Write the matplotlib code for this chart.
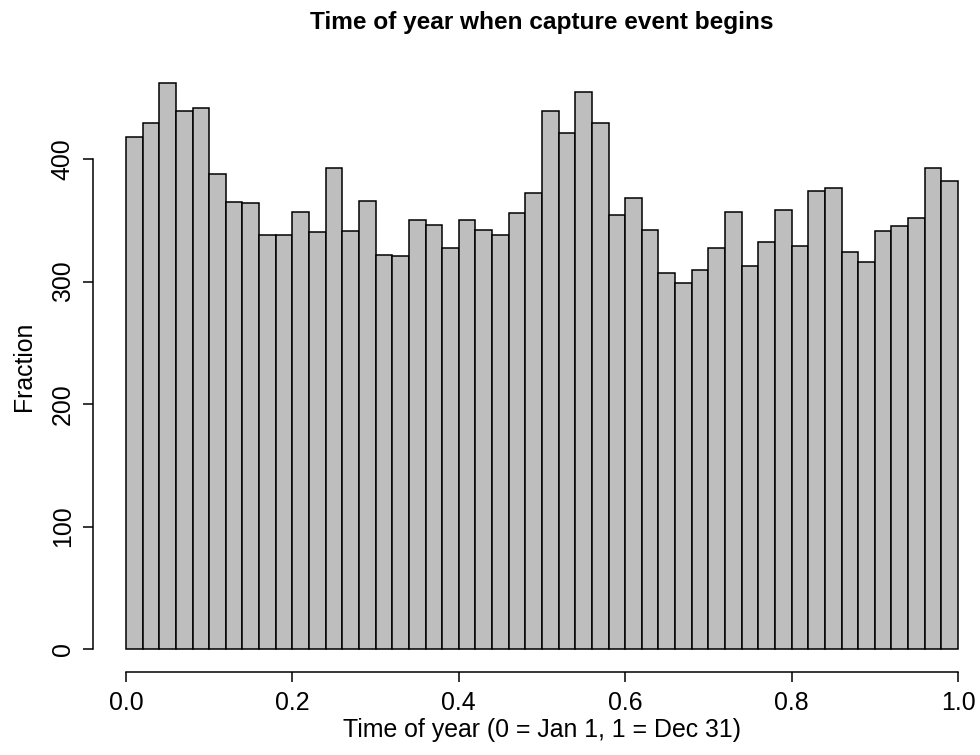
import numpy as np
import matplotlib.pyplot as plt

plt.rcParams['font.family'] = ['Liberation Sans', 'DejaVu Sans']

# histogram of capture start times, 50 bins over [0, 1]
bin_start = 0.0
bin_end = 1.0
counts = [418, 429, 462, 439, 442, 388, 365, 364, 338, 338,
          357, 340, 393, 341, 366, 322, 321, 350, 346, 327,
          350, 342, 338, 356, 372, 439, 421, 455, 429, 354,
          368, 342, 307, 299, 309, 327, 357, 313, 332, 358,
          329, 374, 376, 324, 316, 341, 345, 352, 393, 382]
x_ticks = [0.0, 0.2, 0.4, 0.6, 0.8, 1.0]
x_tick_labels = ['0.0', '0.2', '0.4', '0.6', '0.8', '1.0']
y_ticks = [0, 100, 200, 300, 400]

edges = np.linspace(bin_start, bin_end, len(counts) + 1)
width = edges[1] - edges[0]

W, H = 980, 755
fig = plt.figure(figsize=(W / 100, H / 100), dpi=100)
# pixel mapping: x=0 -> 126, x=1 -> 958 ; y=0 -> 649, y=400 -> 159
px_left, px_right, px_top, px_bot = 92.7, 975, 60, 672
ax = fig.add_axes([px_left / W, 1 - px_bot / H, (px_right - px_left) / W, (px_bot - px_top) / H])
ax.set_xlim((px_left - 126) / 832, (px_right - 126) / 832)
ax.set_ylim((649 - px_bot) / 1.225, (649 - px_top) / 1.225)

ax.bar(edges[:-1], counts, width=width, align='edge', color='#bebebe',
       edgecolor='black', linewidth=1.1)

for s in ['top', 'right']:
    ax.spines[s].set_visible(False)
for s in ['left', 'bottom']:
    ax.spines[s].set_linewidth(1.1)
ax.spines['left'].set_bounds(0, 400)
ax.spines['bottom'].set_bounds(0, 1)
ax.set_xticks(x_ticks)
ax.set_xticklabels(x_tick_labels)
ax.set_yticks(y_ticks)
ax.set_yticklabels([str(v) for v in y_ticks], rotation=90, va='center')
ax.tick_params(direction='out', length=7.2, width=1.1, labelsize=17.9, pad=6.5)
ax.tick_params(axis='y', pad=5.8)

fig.text(542 / W, 1 - 737 / H, 'Time of year (0 = Jan 1, 1 = Dec 31)',
         ha='center', va='baseline', fontsize=17.9)
fig.text(24 / W, 1 - 366 / H, 'Fraction', rotation=90,
         ha='center', va='center', fontsize=17.9)
fig.text(542 / W, 1 - 29 / H, 'Time of year when capture event begins',
         ha='center', va='baseline', fontsize=17.6, fontweight='bold')

fig.savefig('out.png', dpi=100)
